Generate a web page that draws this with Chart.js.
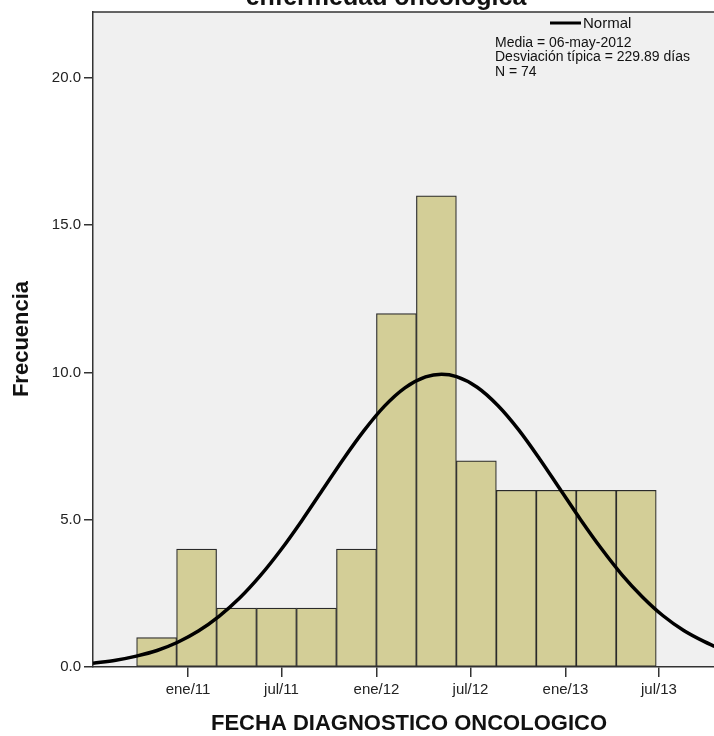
<!DOCTYPE html>
<html>
<head>
<meta charset="utf-8">
<script src="https://cdn.jsdelivr.net/npm/chart.js@4.4.0/dist/chart.umd.min.js"></script>
<style>
  html, body { margin: 0; padding: 0; background: #fff; }
  #wrap { width: 714px; height: 736px; }
</style>
</head>
<body>
<div id="wrap"><canvas id="chart" width="714" height="736"></canvas></div>
<script>
// x en días desde 01-ene-2011
const binCenters = [-60.8, 16.6, 94.0, 171.4, 248.8, 326.2, 403.6, 481.0, 558.4, 635.8, 713.2, 790.6, 868.0];
const frequencies = [1, 4, 2, 2, 2, 4, 12, 16, 7, 6, 6, 6, 6];

const tickDays = [0, 181, 365, 547, 731, 912];
const tickLabels = ["ene/11", "jul/11", "ene/12", "jul/12", "ene/13", "jul/13"];
const yTicks = [0, 5, 10, 15, 20];

// curva Normal
const normalDays = [-184, -140, -100, -60, -20, 20, 60, 100, 140, 180, 220, 260, 300, 340, 380, 420, 460, 491,
	520, 560, 600, 640, 680, 720, 760, 800, 840, 880, 920, 960, 1000, 1020];
const normalFreq = [0.13, 0.23, 0.37, 0.56, 0.84, 1.22, 1.72, 2.34, 3.10, 3.98, 4.96, 6.00, 7.04, 8.01, 8.85, 9.48, 9.85, 9.94,
	9.86, 9.50, 8.88, 8.06, 7.09, 6.05, 5.01, 4.03, 3.14, 2.38, 1.74, 1.24, 0.86, 0.70];

const titleText = "enfermedad oncológica";
const xTitle = "FECHA DIAGNOSTICO ONCOLOGICO";
const yTitle = "Frecuencia";
const legendLabel = "Normal";
const statsLines = ["Media = 06-may-2012", "Desviación típica = 229.89 días", "N = 74"];

const FONT = "'Liberation Sans', Arial, sans-serif";
const AXIS = "#333";

const decor = {
	id: "decor",
	beforeDraw(chart) {
		const { ctx, chartArea: a } = chart;
		ctx.save();
		ctx.fillStyle = "#fff";
		ctx.fillRect(0, 0, chart.width, chart.height);
		ctx.fillStyle = "#f0f0f0";
		ctx.fillRect(a.left, a.top, a.right - a.left, a.bottom - a.top);
		ctx.restore();
	},
	afterDraw(chart) {
		const { ctx, chartArea: a } = chart;
		ctx.save();

		// marco superior
		ctx.strokeStyle = AXIS;
		ctx.lineWidth = 1.5;
		ctx.beginPath();
		ctx.moveTo(a.left, a.top);
		ctx.lineTo(a.right, a.top);
		ctx.stroke();

		ctx.fillStyle = "#111";
		ctx.textAlign = "center";
		ctx.textBaseline = "alphabetic";
		ctx.font = "bold 25px " + FONT;
		ctx.fillText(titleText, 386, 5);

		ctx.font = "bold 22px " + FONT;
		ctx.textBaseline = "middle";
		ctx.fillText(xTitle, 409, 724);

		ctx.save();
		ctx.translate(22, 339);
		ctx.rotate(-Math.PI / 2);
		ctx.fillText(yTitle, 0, 0);
		ctx.restore();

		// leyenda
		ctx.strokeStyle = "#000";
		ctx.lineWidth = 3;
		ctx.beginPath();
		ctx.moveTo(550, 23);
		ctx.lineTo(581, 23);
		ctx.stroke();

		ctx.textAlign = "left";
		ctx.fillStyle = "#111";
		ctx.font = "15px " + FONT;
		ctx.fillText(legendLabel, 583, 24);

		ctx.font = "14px " + FONT;
		statsLines.forEach((line, i) => {
			ctx.fillText(line, 495, 43 + i * 14.5);
		});

		ctx.restore();
	},
};

new Chart(document.getElementById("chart"), {
	type: "bar",
	data: {
		datasets: [
			{
				type: "line",
				label: legendLabel,
				data: normalDays.map((x, i) => ({ x: x, y: normalFreq[i] })),
				borderColor: "#000",
				borderWidth: 3.5,
				pointRadius: 0,
				cubicInterpolationMode: "monotone",
				fill: false,
				order: 0,
			},
			{
				type: "bar",
				label: "Frecuencia",
				data: binCenters.map((x, i) => ({ x: x, y: frequencies[i] })),
				backgroundColor: "#d3ce97",
				borderColor: "#2a2a2a",
				borderWidth: 1.2,
				borderSkipped: false,
				barPercentage: 1,
				categoryPercentage: 1,
				order: 1,
			},
		],
	},
	options: {
		responsive: false,
		animation: false,
		layout: { padding: { top: 12, right: 0, bottom: 0, left: 0 } },
		plugins: {
			legend: { display: false },
			tooltip: { enabled: false },
		},
		scales: {
			x: {
				type: "linear",
				offset: false,
				min: -184,
				max: 1018.6,
				afterBuildTicks: (scale) => {
					scale.ticks = tickDays.map((v) => ({ value: v }));
				},
				afterFit: (scale) => {
					scale.height = 69;
				},
				ticks: {
					autoSkip: false,
					maxRotation: 0,
					padding: 4,
					color: "#222",
					font: { family: FONT, size: 15 },
					callback: (value) => tickLabels[tickDays.indexOf(value)],
				},
				grid: { offset: false, drawOnChartArea: false, drawTicks: true, tickLength: 10, color: AXIS, lineWidth: 1.5 },
				border: { display: true, color: AXIS, width: 1.5 },
			},
			y: {
				min: 0,
				max: 22.24,
				afterBuildTicks: (scale) => {
					scale.ticks = yTicks.map((v) => ({ value: v }));
				},
				afterFit: (scale) => {
					scale.width = 93;
				},
				ticks: {
					padding: 3,
					color: "#222",
					font: { family: FONT, size: 15 },
					callback: (value) => value.toFixed(1),
				},
				grid: { drawOnChartArea: false, drawTicks: true, tickLength: 9, color: AXIS, lineWidth: 1.5 },
				border: { display: true, color: AXIS, width: 1.5 },
			},
		},
	},
	plugins: [decor],
});
</script>
</body>
</html>
